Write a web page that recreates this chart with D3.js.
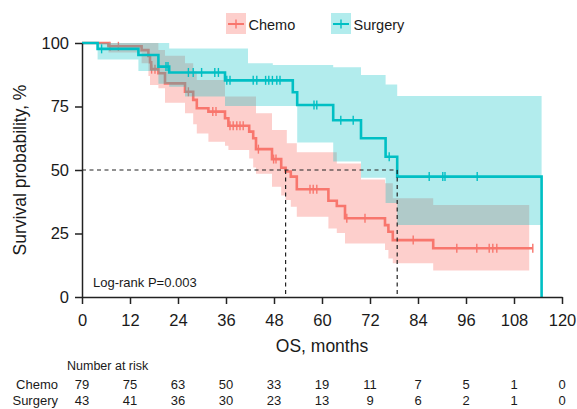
<!DOCTYPE html>
<html>
<head>
<meta charset="utf-8">
<script src="https://cdn.jsdelivr.net/npm/d3@7"></script>
<style>
  body { margin: 0; background: #fff; }
  svg text { font-family: "Liberation Sans", Arial, Helvetica, sans-serif; fill: #1a1a1a; }
</style>
</head>
<body>
<div id="chart"></div>
<script>
// Kaplan-Meier steps: [month, survival %]
const chemoSteps = [
  [0, 100], [6.6, 98.7], [14.9, 97.2], [16.6, 94.9], [17.0, 92.4], [17.3, 89.7],
  [19.1, 88.1], [20.75, 84.1], [25.75, 80.8], [27.8, 77.6], [28.7, 74.3], [31.6, 73.0],
  [35.75, 70.4], [36.6, 67.4], [41.8, 65.1], [42.8, 62.5], [43.5, 58.2], [47.5, 54.3],
  [49.8, 50.9], [50.9, 49.4], [52.2, 47.4], [53.7, 42.4], [61.6, 37.9], [63.7, 35.8],
  [65.75, 31.0], [75.75, 28.3], [76.6, 25.7], [77.7, 22.4], [87.8, 19.2], [112.7, 19.2],
]
const surgerySteps = [
  [0, 100], [3.9, 97.7], [14.1, 95.3], [19.1, 90.7], [21.8, 88.4], [35.75, 85.3],
  [52.7, 80.6], [53.8, 75.6], [62.8, 69.6], [69.75, 62.5], [75.9, 55.2], [78.8, 47.4],
  [114.9, 0],
]

// censored observations (months)
const chemoCensor = [
  7, 9.1, 17.4, 18.25, 26.6, 32.7, 33.5, 37, 37.8, 38.7, 39.5, 40.3, 44.1, 47.9, 48.5,
  57, 57.8, 58.7, 66.2, 70.75, 82.8, 93.7, 98.7, 101.8, 102.7, 103.7, 112.7,
]
const surgeryCensor = [
  4.9, 21.0, 21.5, 26.6, 27.8, 29.9, 33.2, 34.1, 36.2, 37, 42.8, 43.7, 45.9, 46.7,
  47.6, 48.7, 49.5, 58, 58.7, 64.7, 67.8, 76.8, 86.8, 90.2, 90.75, 98.8,
]

// 95% confidence bands
const chemoUpper = [
  [6.6, 100], [19.1, 97.2], [20.75, 95.0], [25.75, 92.0], [27.8, 89.0], [28.7, 85.4],
  [35.75, 78.9], [43.5, 72.3], [47.5, 65.7], [51.2, 60.5], [53.7, 57.0], [63.7, 52.6],
  [69.75, 46.3], [75.75, 44.8], [77.7, 38.9], [87.8, 36.2], [111.8, 36.2],
]
const chemoLower = [
  [6.6, 96.3], [14.9, 92.0], [16.6, 87.0], [17.0, 83.5], [19.1, 82.2], [20.75, 76.5],
  [25.75, 72.3], [27.8, 68.0], [28.7, 64.4], [31.6, 61.1], [35.75, 59.5], [36.6, 57.9],
  [41.8, 54.5], [42.8, 51.0], [43.5, 48.5], [47.5, 43.4], [49.8, 40.0], [50.9, 38.2],
  [52.2, 35.5], [53.7, 31.6], [61.6, 27.0], [63.7, 25.2], [65.75, 21.1], [75.75, 18.5],
  [76.6, 15.2], [77.7, 13.3], [87.8, 10.4], [111.8, 10.4],
]
const surgeryUpper = [
  [3.9, 100], [21.8, 97.8], [41.5, 92.0], [47.7, 91.3], [62.8, 90.5], [69.75, 87.4],
  [75.9, 83.7], [78.8, 79.1], [114.9, 79.1],
]
const surgeryLower = [
  [3.9, 93.5], [14.1, 89.0], [19.1, 84.0], [21.8, 82.8], [25.75, 78.9], [35.75, 75.2],
  [53.8, 60.8], [62.8, 53.3], [69.75, 46.9], [75.9, 37.0], [78.8, 28.3], [114.9, 28.3],
]

const xTicks = [0, 12, 24, 36, 48, 60, 72, 84, 96, 108, 120]
const yTicks = [0, 25, 50, 75, 100]
const groups = ['Chemo', 'Surgery']
const riskChemo = [79, 75, 63, 50, 33, 19, 11, 7, 5, 1, 0]
const riskSurgery = [43, 41, 36, 30, 23, 13, 9, 6, 2, 1, 0]

const red = '#F8766D'
const teal = '#00BFC4'

const svg = d3.select('#chart').append('svg')
  .attr('width', 577).attr('height', 409)

const x = d3.scaleLinear().domain([0, 120]).range([82, 562])
const y = d3.scaleLinear().domain([0, 100]).range([297, 43])

const stepAt = (steps, t) => {
  let v = steps[0][1]
  for (const [st, sv] of steps) if (st <= t) v = sv
  return v
}

function bandData(upper, lower) {
  const times = Array.from(new Set([...upper, ...lower].map(d => d[0]))).sort((a, b) => a - b)
  return times.map(t => ({ t, hi: stepAt(upper, t), lo: stepAt(lower, t) }))
}

const area = d3.area().curve(d3.curveStepAfter)
  .x(d => x(d.t)).y0(d => y(d.lo)).y1(d => y(d.hi))
const line = d3.line().curve(d3.curveStepAfter)
  .x(d => x(d[0])).y(d => y(d[1]))

function drawGroup(steps, upper, lower, censor, color, op) {
  svg.append('path').datum(bandData(upper, lower))
    .attr('d', area).attr('fill', color).attr('fill-opacity', op)
  svg.append('path').datum(steps)
    .attr('d', line).attr('fill', 'none').attr('stroke', color)
    .attr('stroke-width', 2.6)
  svg.append('g').selectAll('line').data(censor).join('line')
    .attr('x1', d => x(d)).attr('x2', d => x(d))
    .attr('y1', d => y(stepAt(steps, d)) - 4.5).attr('y2', d => y(stepAt(steps, d)) + 4.5)
    .attr('stroke', color).attr('stroke-width', 1.4)
}

drawGroup(chemoSteps, chemoUpper, chemoLower, chemoCensor, red, 0.35)
drawGroup(surgerySteps, surgeryUpper, surgeryLower, surgeryCensor, teal, 0.3)

// median survival guides
const median = steps => steps.find(d => d[1] <= 50)[0]
const medians = [median(chemoSteps), median(surgerySteps)]
const guides = svg.append('g').attr('stroke', '#222').attr('stroke-width', 1.2)
  .attr('stroke-dasharray', '4,3.5')
guides.append('line').attr('x1', x(0)).attr('x2', x(d3.max(medians)))
  .attr('y1', y(50)).attr('y2', y(50))
guides.selectAll('.v').data(medians).join('line').attr('class', 'v')
  .attr('x1', d => x(d)).attr('x2', d => x(d)).attr('y1', y(50)).attr('y2', y(0))

// axes
const xAxis = svg.append('g').attr('transform', `translate(0,${y(0)})`)
  .call(d3.axisBottom(x).tickValues(xTicks).tickSize(7).tickSizeOuter(0).tickPadding(10))
const yAxis = svg.append('g').attr('transform', `translate(${x(0)},0)`)
  .call(d3.axisLeft(y).tickValues(yTicks).tickSize(7).tickSizeOuter(0).tickPadding(6))
for (const ax of [xAxis, yAxis]) {
  ax.select('.domain').attr('stroke', '#222').attr('stroke-width', 1.5)
  ax.selectAll('.tick line').attr('stroke', '#222').attr('stroke-width', 1.5)
  ax.selectAll('.tick text').attr('font-size', 16.5).attr('fill', '#1a1a1a')
    .style('font-family', '"Liberation Sans", Arial, sans-serif')
}

svg.append('text').attr('x', 322).attr('y', 352).attr('text-anchor', 'middle')
  .attr('font-size', 17.5).text('OS, months')
svg.append('text').attr('transform', 'translate(26,170) rotate(-90)')
  .attr('text-anchor', 'middle').attr('font-size', 17.5).text('Survival probability, %')

svg.append('text').attr('x', 93).attr('y', 287).attr('font-size', 13)
  .text('Log-rank P=0.003')

// legend
const legendX = [226, 331]
const legend = svg.append('g').selectAll('g').data(groups).join('g')
  .attr('transform', (d, i) => `translate(${legendX[i]},13)`)
legend.append('rect').attr('width', 20).attr('height', 21)
  .attr('fill', (d, i) => i ? teal : red).attr('fill-opacity', (d, i) => i ? 0.3 : 0.35)
legend.append('line').attr('x1', 2).attr('x2', 18).attr('y1', 11).attr('y2', 11)
  .attr('stroke', (d, i) => i ? teal : red).attr('stroke-width', 2)
legend.append('line').attr('x1', 10).attr('x2', 10).attr('y1', 6.5).attr('y2', 15.5)
  .attr('stroke', (d, i) => i ? teal : red).attr('stroke-width', 1.4)
legend.append('text').attr('x', 22.5).attr('y', 16.5).attr('font-size', 14.5).text(d => d)

// number at risk table
svg.append('text').attr('x', 67).attr('y', 370).attr('font-size', 12.5).text('Number at risk')
const riskRows = [riskChemo, riskSurgery]
const rowY = [389, 405]
riskRows.forEach((row, i) => {
  svg.append('text').attr('x', 58).attr('y', rowY[i]).attr('text-anchor', 'end')
    .attr('font-size', 13).text(groups[i])
  svg.append('g').selectAll('text').data(row).join('text')
    .attr('x', (d, j) => x(xTicks[j])).attr('y', rowY[i])
    .attr('text-anchor', 'middle').attr('font-size', 13).text(d => d)
})
</script>
</body>
</html>
